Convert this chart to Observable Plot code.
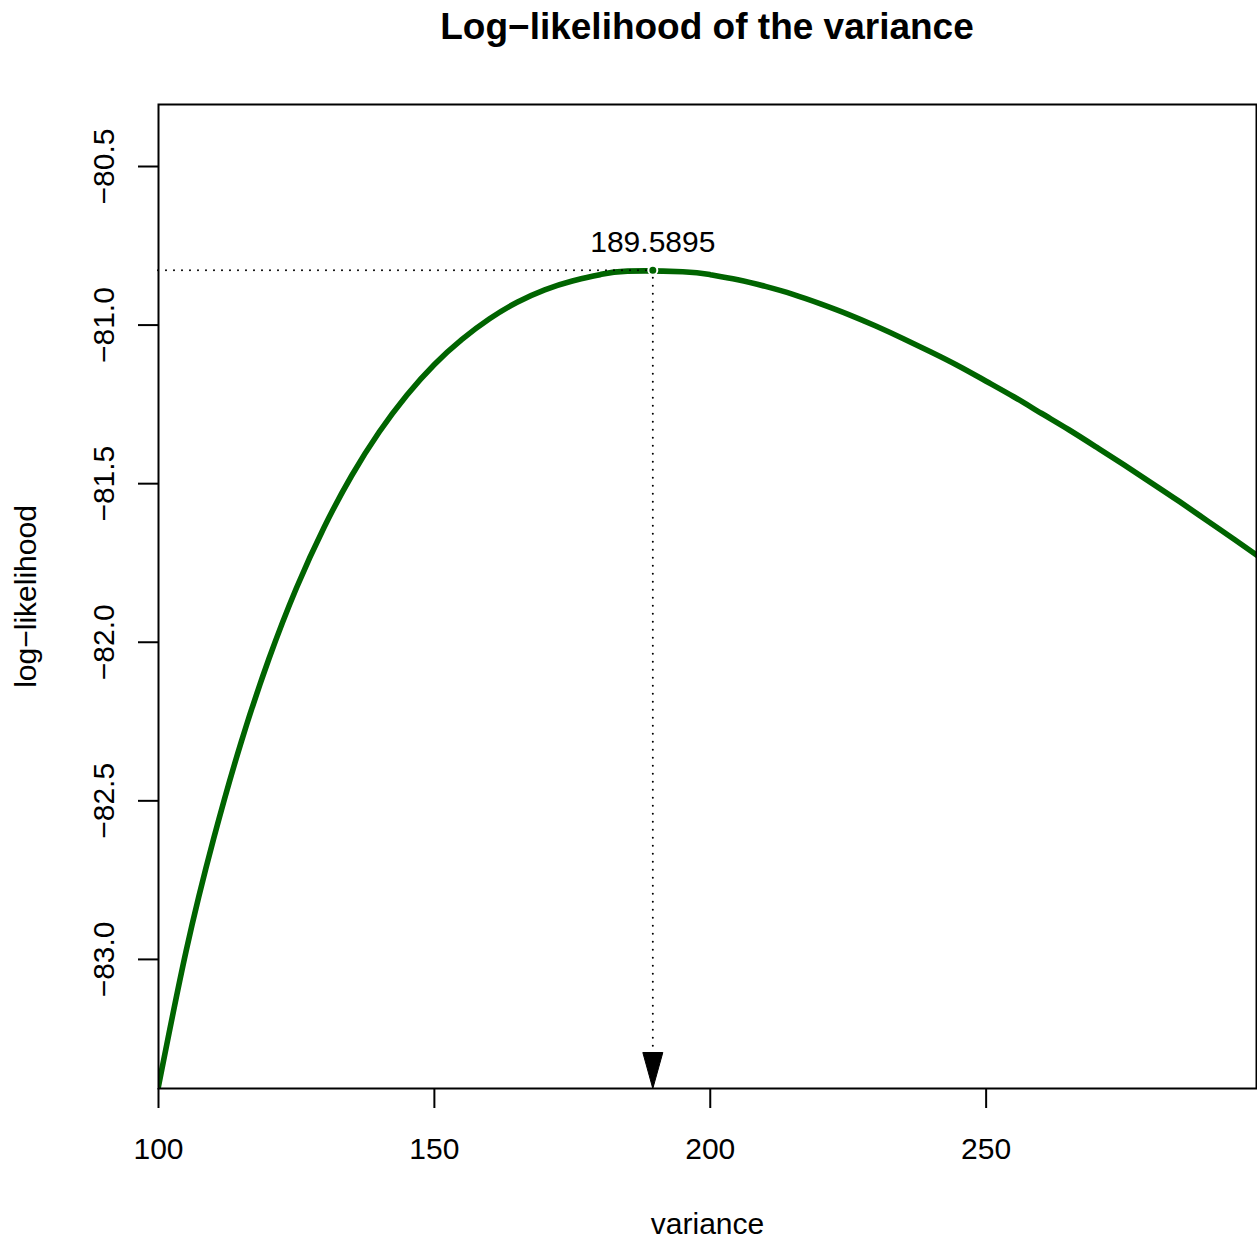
<!DOCTYPE html>
<html>
<head>
<meta charset="utf-8">
<script src="https://cdn.jsdelivr.net/npm/d3@7"></script>
<script src="https://cdn.jsdelivr.net/npm/@observablehq/plot@0.6"></script>
<style>
  html, body { margin: 0; padding: 0; background: white; overflow: hidden; }
  #title {
    font-family: "Liberation Sans", Arial, Helvetica, sans-serif;
    font-weight: bold; font-size: 37px; line-height: 54px; height: 54px;
    text-align: center; padding-left: 158px; padding-right: 1px; box-sizing: border-box; width: 1257px;
  }
</style>
</head>
<body>
<div id="title">Log−likelihood of the variance</div>
<div id="chart"></div>
<script>
// Values
const variance = [100, 105, 110, 115, 120, 125, 130, 135, 140, 145, 150, 155, 160, 165, 170, 175, 180, 185, 195, 200, 205, 210, 215, 220, 225, 230, 235, 240, 245, 250, 255, 260, 265, 270, 275, 280, 285, 290, 295, 300];
const logLik   = [-83.40, -82.974, -82.619, -82.314, -82.053, -81.829, -81.638, -81.475, -81.337, -81.221, -81.124, -81.045, -80.980, -80.928, -80.889, -80.861, -80.841, -80.830, -80.832, -80.841, -80.857, -80.878, -80.903, -80.933, -80.966, -81.003, -81.043, -81.085, -81.129, -81.177, -81.226, -81.278, -81.330, -81.385, -81.441, -81.498, -81.556, -81.616, -81.676, -81.737];
const peakVariance = [189.5895];
const peakLogLik = [-80.827];
const xTicks = [100, 150, 200, 250];
const yTicks = [-83.0, -82.5, -82.0, -81.5, -81.0, -80.5];
const xDomain = [100, 299];
const yDomain = [-83.407, -80.3045];

const curveData = variance.map((v, i) => ({variance: v, loglik: logLik[i]}));
const peak = peakVariance.map((v, i) => ({variance: v, loglik: peakLogLik[i], label: String(v)}));

const arrowSymbol = {
  draw(context) {
    context.moveTo(0, 0);
    context.lineTo(-10, -36);
    context.lineTo(10, -36);
    context.closePath();
  }
};

const fmt = d3.format(".1f");

const chart = Plot.plot({
  width: 1257,
  height: 1189,
  marginTop: 50,
  marginBottom: 155,
  marginLeft: 158,
  marginRight: 1,
  style: {fontSize: "30px", fontFamily: "'Liberation Sans', Arial, Helvetica, sans-serif", color: "black", background: "white"},
  x: {domain: xDomain, label: null},
  y: {domain: yDomain, label: null},
  marks: [
    Plot.line(curveData, {x: "variance", y: "loglik", stroke: "#006400", strokeWidth: 5.6, curve: "natural", clip: true}),
    Plot.ruleY(peak, {y: "loglik", x1: xDomain[0], x2: "variance", stroke: "black", strokeWidth: 2, strokeDasharray: "0,8", strokeLinecap: "round"}),
    Plot.ruleX(peak, {x: "variance", y1: "loglik", y2: yDomain[0], stroke: "black", strokeWidth: 2, strokeDasharray: "0,8", strokeLinecap: "round"}),
    Plot.dot(peak, {x: "variance", y: yDomain[0], symbol: arrowSymbol, fill: "black", stroke: "black", strokeWidth: 1}),
    Plot.dot(peak, {x: "variance", y: "loglik", r: 4.5, fill: "#006400", stroke: "white", strokeWidth: 2}),
    Plot.text(peak, {x: "variance", y: "loglik", text: "label", lineAnchor: "middle", dy: -28, fill: "black"}),
    Plot.frame({stroke: "black", strokeWidth: 2}),
    Plot.axisX(xTicks, {tickSize: 20, tickPadding: 29, strokeWidth: 2, label: null, tickFormat: d => String(d)}),
    Plot.axisY(yTicks, {tickSize: 20, tickPadding: 25, tickRotate: -90, strokeWidth: 2, label: null, tickFormat: fmt}),
    Plot.text(["variance"], {frameAnchor: "bottom", dy: 145, lineAnchor: "bottom", textAnchor: "middle", fill: "black"}),
    Plot.text(["log−likelihood"], {frameAnchor: "left", dx: -123, rotate: -90, lineAnchor: "bottom", textAnchor: "middle", fill: "black"})
  ]
});
document.getElementById("chart").appendChild(chart);
</script>
</body>
</html>
